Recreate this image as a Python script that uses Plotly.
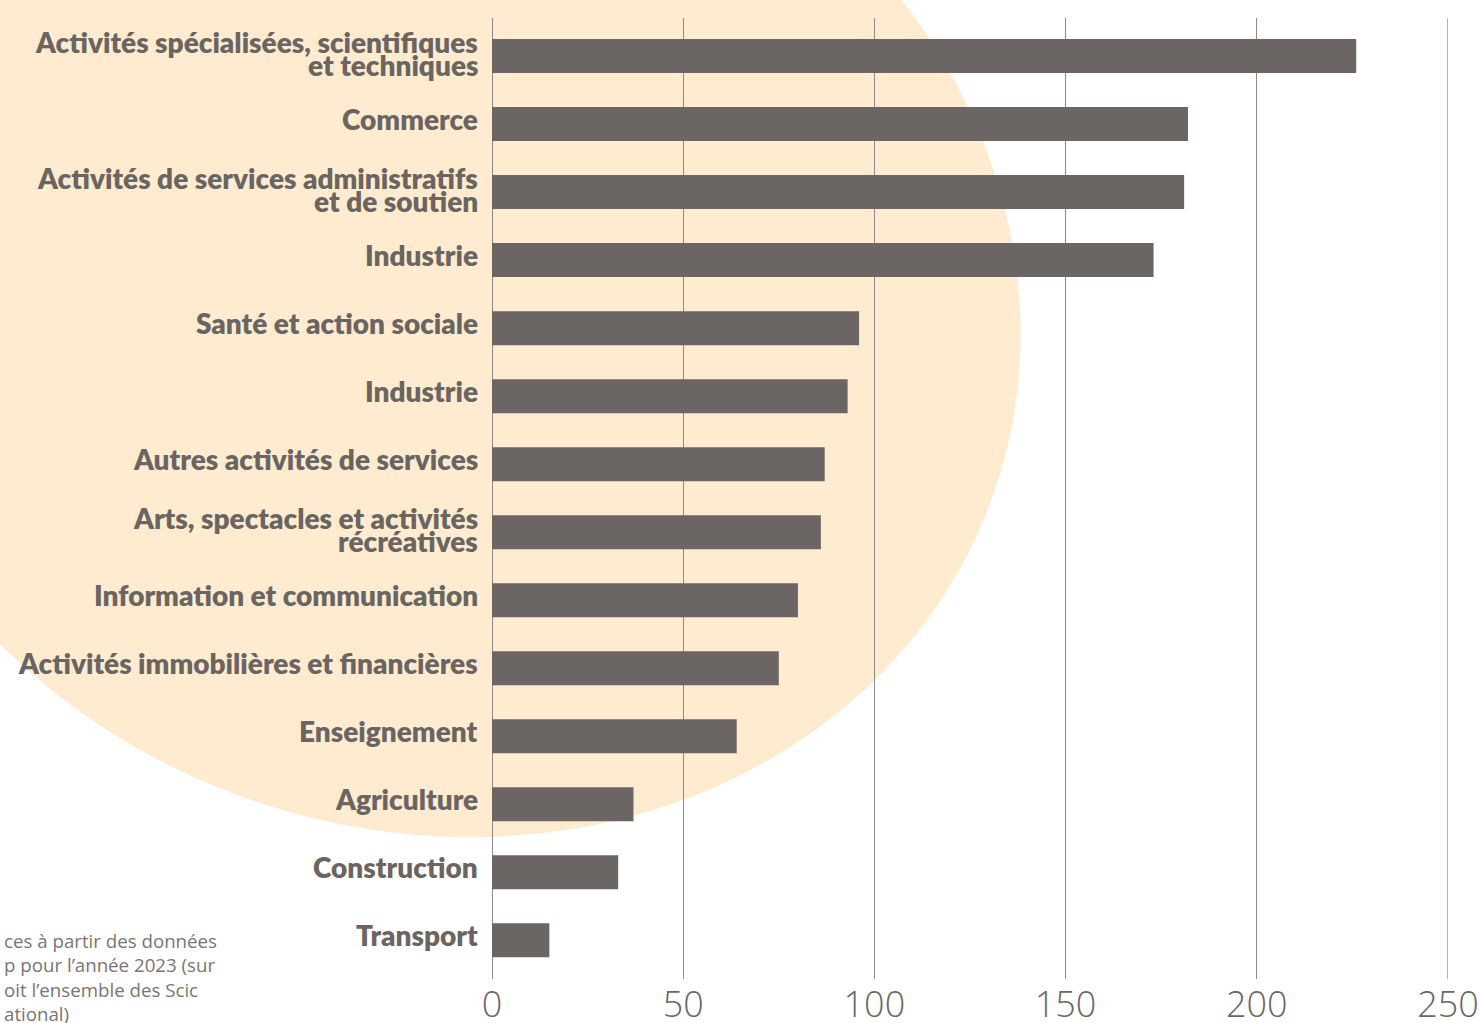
import numpy as np
import plotly.graph_objects as go

labels = [
    "Activités spécialisées, scientifiques\net techniques",
    "Commerce",
    "Activités de services administratifs\net de soutien",
    "Industrie",
    "Santé et action sociale",
    "Industrie",
    "Autres activités de services",
    "Arts, spectacles et activités\nrécréatives",
    "Information et communication",
    "Activités immobilières et financières",
    "Enseignement",
    "Agriculture",
    "Construction",
    "Transport",
]
values = [226, 182, 181, 173, 96, 93, 87, 86, 80, 75, 64, 37, 33, 15]
x_ticks = [0, 50, 100, 150, 200, 250]
footnote_lines = [
    "ces à partir des données",
    "p pour l’année 2023 (sur",
    "oit l’ensemble des Scic",
    "ational)",
]

W, H = 1480, 1023
L, R, T, B = 492, 1448, 18, 979
BAR = "#6b6663"
TXT = "#6b6562"
GRID = "#8f8b89"

n = len(labels)
pos = [n - 1 - i for i in range(n)]

fig = go.Figure()
fig.add_trace(go.Bar(
    x=values, y=pos, orientation="h", width=0.5,
    marker=dict(color=BAR, line=dict(width=0)),
    hoverinfo="x",
))

def px2paper_x(px):
    return (px - L) / (R - L)

def px2paper_y(py):
    return (B - py) / (B - T)

# --- decorative background blob: ellipse fitted to its visible outline (page pixels)
outline_px = np.array([
    (897, 0), (930, 39), (970, 107), (993, 157), (1008, 217), (1017, 283),
    (1019, 340), (938, 600), (880, 672), (540, 838), (492, 841), (440, 837),
    (340, 820), (240, 792), (167, 763), (100, 723), (33, 675), (0, 650),
], dtype=float)
s = 1000.0
ox, oy = outline_px[:, 0] / s, outline_px[:, 1] / s
Mfit = np.column_stack([ox**2, ox * oy, oy**2, ox, oy, np.ones_like(ox)])
_, _, vt = np.linalg.svd(Mfit)
A_, B_, C_, D_, E_, F_ = vt[-1]
cen = np.linalg.solve(np.array([[2 * A_, B_], [B_, 2 * C_]]), np.array([-D_, -E_]))
F0 = A_ * cen[0]**2 + B_ * cen[0] * cen[1] + C_ * cen[1]**2 + D_ * cen[0] + E_ * cen[1] + F_
Q = np.array([[A_, B_ / 2], [B_ / 2, C_]])
lam, vec = np.linalg.eigh(Q)
axes = np.sqrt(-F0 / lam)
t = np.linspace(0, 2 * np.pi, 240, endpoint=False)
pts = cen[:, None] + vec @ (axes[:, None] * np.vstack([np.cos(t), np.sin(t)]))
pts *= s
path = "M " + " L ".join(f"{px2paper_x(px):.5f},{px2paper_y(py):.5f}" for px, py in pts.T) + " Z"
fig.add_shape(type="path", xref="paper", yref="paper", layer="below", path=path,
              fillcolor="#ffebd0", line=dict(width=0))

# gridline at the axis maximum (plotly omits it at the range edge)
fig.add_shape(type="line", xref="x", yref="paper", layer="below",
              x0=x_ticks[-1], x1=x_ticks[-1], y0=0, y1=1,
              line=dict(color=GRID, width=1.3))

ann = []
for lab, p in zip(labels, pos):
    lines = lab.split("\n")
    if len(lines) == 1:
        shifts = [5]
    else:
        shifts = [14, -9]
    for ln, sh in zip(lines, shifts):
        ann.append(dict(x=0, y=p, xref="x", yref="y", text=ln, showarrow=False,
                        xanchor="right", yanchor="middle", xshift=-12, yshift=sh,
                        font=dict(family="Lato", size=28, color=TXT, weight=800)))

ann.append(dict(x=px2paper_x(2), y=px2paper_y(926), xref="paper", yref="paper",
                text="<br>".join(footnote_lines), showarrow=False, align="left",
                xanchor="left", yanchor="top",
                font=dict(family="Open Sans", size=18.7, color="#7a7572")))

fig.update_layout(
    width=W, height=H,
    margin=dict(l=L, r=W - R, t=T, b=H - B, pad=0, autoexpand=False),
    paper_bgcolor="white", plot_bgcolor="rgba(0,0,0,0)",
    showlegend=False,
    annotations=ann,
    xaxis=dict(range=[0, 250], tickvals=x_ticks, showgrid=True, gridcolor=GRID,
               gridwidth=1.3, zeroline=True, zerolinecolor=GRID, zerolinewidth=1.3,
               showline=False, ticks="", automargin=False, ticklabelstandoff=1,
               tickfont=dict(family="Open Sans", size=36, color="#6b6663", weight=300)),
    yaxis=dict(range=[-0.57, n - 1 + 0.56], showticklabels=False, showgrid=False,
               zeroline=False, showline=False, fixedrange=True, automargin=False),
)

fig.write_html("out.html", config={"displayModeBar": False},
               post_script="document.body.style.margin='0';")
